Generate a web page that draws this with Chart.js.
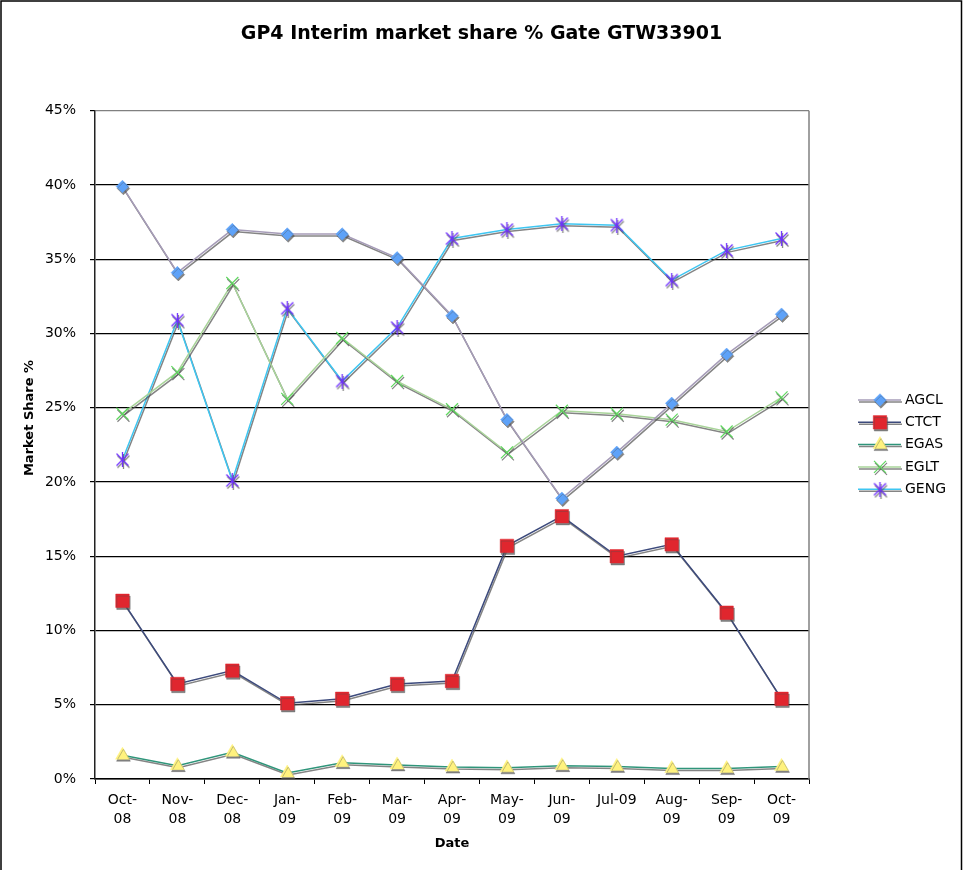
<!DOCTYPE html>
<html>
<head>
<meta charset="utf-8">
<title>GP4 Interim market share % Gate GTW33901</title>
<script src="https://cdn.jsdelivr.net/npm/chart.js@4.4.0/dist/chart.umd.min.js"></script>
<style>
  html, body { margin: 0; padding: 0; background: #fff; }
  #wrap { width: 963px; height: 870px; }
</style>
</head>
<body>
<div id="wrap"><canvas id="shareChart" width="963" height="870"></canvas></div>
<script>
// months on the x axis (two-line labels like the original sheet)
const months = [['Oct-', '08'], ['Nov-', '08'], ['Dec-', '08'], ['Jan-', '09'], ['Feb-', '09'],
  ['Mar-', '09'], ['Apr-', '09'], ['May-', '09'], ['Jun-', '09'], 'Jul-09', ['Aug-', '09'],
  ['Sep-', '09'], ['Oct-', '09']];

// market share %
const agcl = [39.9, 34.1, 37.0, 36.7, 36.7, 35.1, 31.2, 24.2, 18.9, 22.0, 25.3, 28.6, 31.3];
const ctct = [12.0, 6.4, 7.3, 5.1, 5.4, 6.4, 6.6, 15.7, 17.7, 15.0, 15.8, 11.2, 5.4];
const egas = [1.6, 0.9, 1.8, 0.4, 1.1, 0.95, 0.8, 0.75, 0.9, 0.85, 0.7, 0.7, 0.85];
const eglt = [24.6, 27.4, 33.4, 25.6, 29.7, 26.8, 24.9, 22.0, 24.8, 24.6, 24.2, 23.4, 25.7];
const geng = [21.5, 30.9, 20.1, 31.7, 26.8, 30.4, 36.4, 37.0, 37.4, 37.3, 33.6, 35.6, 36.4];

const yTicks = [0, 5, 10, 15, 20, 25, 30, 35, 40, 45];

const FONT = '"DejaVu Sans", Verdana, sans-serif';

// excel style asterisk marker: an X with a vertical bar
function makeStar(color) {
  const c = document.createElement('canvas');
  c.width = 15;
  c.height = 15;
  const g = c.getContext('2d');
  g.strokeStyle = color;
  g.lineWidth = 1.3;
  g.beginPath();
  g.moveTo(1.5, 1.5); g.lineTo(13.5, 13.5);
  g.moveTo(13.5, 1.5); g.lineTo(1.5, 13.5);
  g.moveTo(7.5, 0); g.lineTo(7.5, 15);
  g.stroke();
  return c;
}

function series(label, data, lineColor, fill, style, radius, edgeWidth) {
  return {
    label: label,
    data: data,
    borderColor: lineColor,
    borderWidth: 1.5,
    pointStyle: style,
    pointRadius: radius,
    pointHoverRadius: radius,
    pointBackgroundColor: fill,
    pointBorderColor: fill,
    pointBorderWidth: edgeWidth,
    tension: 0,
    fill: false
  };
}

const datasets = [
  series('AGCL', agcl, '#a69cb8', '#5ea2f8', 'rectRot', 6.3, 0.5),
  series('CTCT', ctct, '#3c4a7c', '#e0262e', 'rect', 9.5, 0.5),
  series('EGAS', egas, '#2f957a', '#fff27e', 'triangle', 8, 0.5),
  series('EGLT', eglt, '#a9d49a', '#5fd65f', 'crossRot', 8.5, 1.2),
  series('GENG', geng, '#3ec6f2', '#7030ff', makeStar('#7030ff'), 7.5, 1.2)
];

function setShadow(ctx) {
  ctx.shadowColor = 'rgba(80,80,80,0.7)';
  ctx.shadowOffsetX = 1;
  ctx.shadowOffsetY = 2;
  ctx.shadowBlur = 0;
}

// grey drop shadow under every line and marker
const shadowPlugin = {
  id: 'shadow',
  beforeDatasetsDraw(chart) {
    chart.ctx.save();
    setShadow(chart.ctx);
  },
  afterDatasetsDraw(chart) {
    chart.ctx.restore();
  }
};

// frame, right border of the plot, y title and the line+marker legend
const framePlugin = {
  id: 'frame',
  afterDraw(chart) {
    const ctx = chart.ctx;
    const a = chart.chartArea;
    ctx.save();
    ctx.strokeStyle = '#808080';
    ctx.lineWidth = 1.5;
    ctx.beginPath();
    ctx.moveTo(a.right, a.top);
    ctx.lineTo(a.right, a.bottom);
    ctx.stroke();

    ctx.strokeStyle = '#000';
    ctx.lineWidth = 1.5;
    ctx.beginPath();
    ctx.moveTo(1, 870);
    ctx.lineTo(1, 1);
    ctx.lineTo(961.5, 1);
    ctx.lineTo(961.5, 870);
    ctx.stroke();

    // y axis title sits a bit above the middle, as excel put it
    ctx.save();
    ctx.translate(30, 418);
    ctx.rotate(-Math.PI / 2);
    ctx.fillStyle = '#000';
    ctx.font = 'bold 13px ' + FONT;
    ctx.textAlign = 'center';
    ctx.textBaseline = 'middle';
    ctx.fillText('Market Share %', 0, 0);
    ctx.restore();

    const top = 400, gap = 22.3;
    chart.data.datasets.forEach(function (ds, i) {
      const y = top + i * gap;
      ctx.save();
      setShadow(ctx);
      ctx.strokeStyle = ds.borderColor;
      ctx.lineWidth = 1.5;
      ctx.beginPath();
      ctx.moveTo(858, y);
      ctx.lineTo(901, y);
      ctx.stroke();
      ctx.fillStyle = ds.pointBackgroundColor;
      ctx.strokeStyle = ds.pointBorderColor;
      ctx.lineWidth = ds.pointBorderWidth;
      Chart.helpers.drawPoint(ctx, {
        pointStyle: ds.pointStyle,
        radius: ds.pointRadius,
        rotation: 0,
        borderWidth: ds.pointBorderWidth
      }, 880, y);
      ctx.restore();
      ctx.fillStyle = '#000';
      ctx.font = '14px ' + FONT;
      ctx.textAlign = 'left';
      ctx.textBaseline = 'middle';
      ctx.fillText(ds.label, 905, y);
    });
    ctx.restore();
  }
};

new Chart(document.getElementById('shareChart'), {
  type: 'line',
  data: { labels: months, datasets: datasets },
  plugins: [shadowPlugin, framePlugin],
  options: {
    responsive: false,
    animation: false,
    layout: { padding: 0 },
    plugins: {
      legend: { display: false },
      tooltip: { enabled: false },
      title: {
        display: true,
        text: 'GP4 Interim market share % Gate GTW33901',
        color: '#000',
        font: { family: FONT, size: 19, weight: 'bold' },
        padding: { top: 23, bottom: 65 }
      }
    },
    scales: {
      x: {
        offset: true,
        grid: { drawOnChartArea: false, drawTicks: true, tickLength: 5, tickColor: '#000', offset: true },
        border: { color: '#000', width: 1.5 },
        ticks: {
          color: '#000',
          font: { family: FONT, size: 14, lineHeight: 1.36 },
          padding: 7,
          maxRotation: 0,
          autoSkip: false
        },
        title: {
          display: true,
          text: 'Date',
          color: '#000',
          font: { family: FONT, size: 13, weight: 'bold' },
          padding: { top: 4, bottom: 19 }
        },
        afterFit(scale) { scale.height = 91; }
      },
      y: {
        min: 0,
        max: 45,
        afterBuildTicks(scale) { scale.ticks = yTicks.map(v => ({ value: v })); },
        grid: {
          color: ctx => (ctx.tick && ctx.tick.value === 45 ? '#808080' : '#000'),
          lineWidth: 1.2,
          tickLength: 5,
          tickColor: '#000'
        },
        border: { color: '#222', width: 1.5 },
        ticks: {
          color: '#000',
          font: { family: FONT, size: 14 },
          padding: 14,
          callback: v => v + '%'
        },
        afterFit(scale) { scale.width = 95; }
      },
      // empty box on the right that keeps room for the legend
      legendRoom: {
        type: 'linear',
        position: 'right',
        display: true,
        grid: { display: false },
        border: { display: false },
        ticks: { display: false },
        afterFit(scale) { scale.width = 154; }
      }
    }
  }
});
</script>
</body>
</html>
